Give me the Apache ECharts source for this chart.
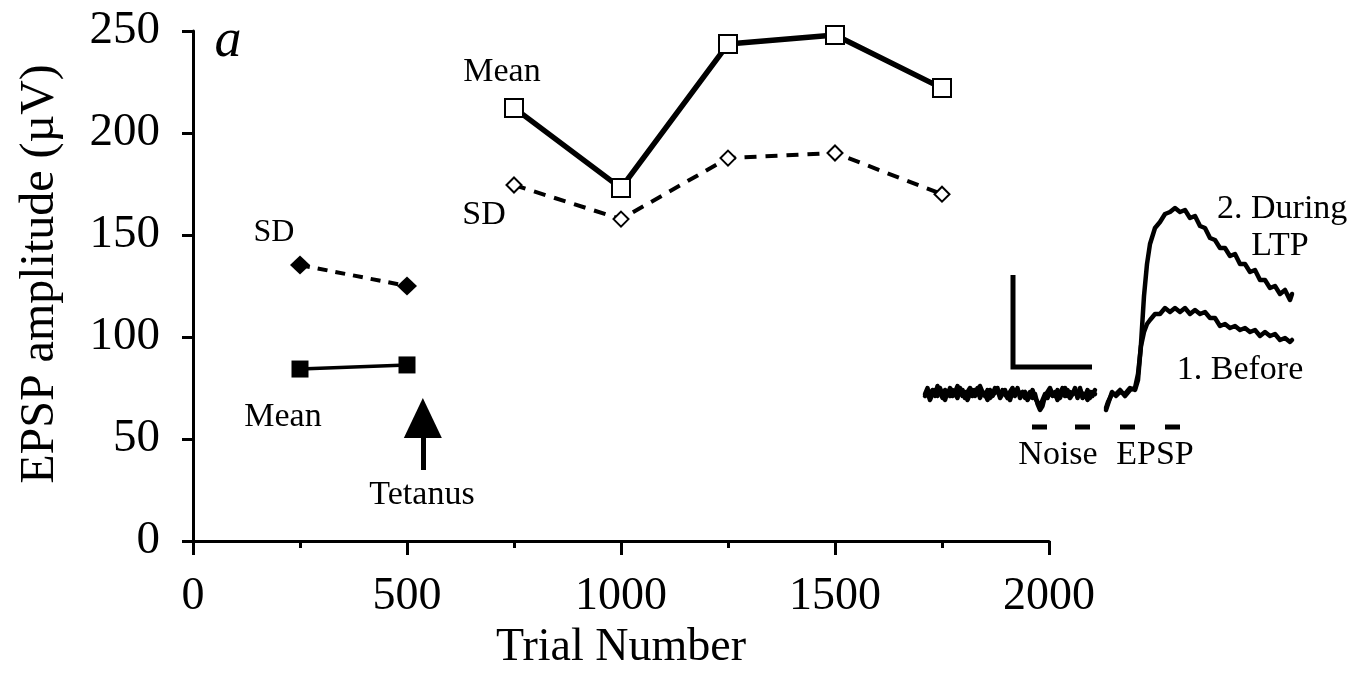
<!DOCTYPE html>
<html>
<head>
<meta charset="utf-8">
<title>EPSP amplitude vs trial number</title>
<script src="https://cdn.jsdelivr.net/npm/echarts@6/dist/echarts.min.js"></script>
<style>
  html, body { margin: 0; padding: 0; background: #fff; }
  #chart { width: 1363px; height: 677px; }
</style>
</head>
<body>
<div id="chart"></div>
<script>
// Trial blocks before and after the tetanus
const preTrials = [250, 500];
const preMean = [84.3, 86.3];
const preSD = [135.3, 125];
const postTrials = [750, 1000, 1250, 1500, 1750];
const postMean = [212.3, 173, 243.6, 248, 222];
const postSD = [174.5, 157.8, 187.7, 190.2, 170];

// Axis ticks
const xTicks = [0, 500, 1000, 1500, 2000];
const yTicks = [0, 50, 100, 150, 200, 250];

// Tetanus delivery (trial number) and arrow extent (µV)
const tetanusTrial = 537;
const tetanusArrow = [34.8, 60.3];

// Example traces: amplitude (relative units); baseline sampled every 0.25 ms from 0.5 ms
const noiseStart = 0.5;
const noiseStep = 0.25;
const noiseBefore = [3, 6, 1, 5, 2, 7, 4, 1, 5, 3,
  6, 2, 4, 7, 3, 5, 1, 4, 6, 2,
  5, 3, 7, 4, 2, 5, 1, 3, 6, 4,
  2, 5, 3, 1, 4, 6, 2, 5, 3, 4,
  1, 2, 4, 1, 3, -2, -5, -3, 2, 4,
  6, 3, 2, 5, 1, 4, 6, 2, 4, 3,
  6, 1, 5, 3, 2, 5, 1, 4, 3];
const noiseDuring = [2, 4, 0, 3, 5, 2, 6, 3, 0, 4,
  2, 5, 3, 1, 6, 2, 4, 0, 3, 5,
  2, 6, 1, 4, 3, 0, 5, 2, 4, 6,
  1, 3, 5, 2, 0, 4, 3, 6, 1, 3,
  4, 0, 2, 5, 1, -1, -3, 0, 3, 1,
  5, 2, 4, 0, 3, 6, 2, 5, 1, 3,
  4, 2, 6, 1, 3, 0, 4, 2, 5];
const epspTime = [18.6, 18.8, 19.2, 19.6, 20.0, 20.5, 21.0, 21.5, 21.8, 22.1, 22.4, 22.7, 23.0, 23.5,
  24.0, 24.5, 25.0, 25.5, 26.0, 26.5, 27.0, 27.5, 28.0, 28.5, 29.0, 29.5, 30.0, 30.5, 31.0, 31.5,
  32.0, 32.5, 33.0, 33.5, 34.0, 34.5, 35.0, 35.5, 36.0, 36.5, 37.0, 37.2];
const epspBefore = [-4, -1, 3, 3, 5, 2, 5, 6, 13, 27, 34, 38, 40, 43,
  43, 46, 44, 46, 44, 46, 43, 45, 43, 44, 41, 41, 37, 38, 36, 37,
  35, 36, 34, 35, 32, 34, 32, 33, 30, 31, 29, 30];
const epspDuring = [-5, -2, 4, 2, 4, 3, 6, 5, 10, 28, 52, 68, 78, 86,
  89, 93, 94, 96, 94, 95, 91, 92, 87, 86, 81, 80, 76, 76, 72, 73,
  68, 68, 64, 65, 60, 60, 56, 57, 53, 55, 50, 53];

// Scale bar corner points and analysis windows (ms)
const scaleBar = [[9.3, 62.5], [9.3, 16.5], [17.2, 16.5]];
const windows = [[11.2, 12.7], [15.5, 17.0], [20.0, 21.5], [24.5, 26.0]];
const windowLevel = -13.5;

const FONT = '"Liberation Serif", "DejaVu Serif", serif';
const zip = (xs, ys) => xs.map((x, i) => [x, ys[i]]);
const sampled = (vals) => vals.map((v, i) => [noiseStart + i * noiseStep, v]);

const traceStyle = { color: '#000', width: 4.5, join: 'round', cap: 'round' };
function traceSeries(name, data) {
  return {
    name, type: 'line', xAxisIndex: 1, yAxisIndex: 1,
    data, symbol: 'none', silent: true,
    lineStyle: traceStyle
  };
}

const chart = echarts.init(document.getElementById('chart'), null, { renderer: 'canvas' });

const option = {
  backgroundColor: '#fff',
  animation: false,
  grid: [
    { left: 193, top: 31, width: 856, height: 510 },
    { left: 920, top: 180, width: 380, height: 260 }
  ],
  xAxis: [
    {
      type: 'value', gridIndex: 0, min: xTicks[0], max: xTicks[xTicks.length - 1],
      interval: xTicks[1] - xTicks[0],
      name: 'Trial Number', nameLocation: 'middle', nameGap: 66,
      nameTextStyle: { fontFamily: FONT, fontSize: 46, color: '#000' },
      axisLine: { show: true, lineStyle: { color: '#000', width: 3 } },
      axisTick: { show: true, length: 14, lineStyle: { color: '#000', width: 3 } },
      minorTick: { show: true, splitNumber: 2, length: 7, lineStyle: { color: '#000', width: 3 } },
      splitLine: { show: false },
      axisLabel: { fontFamily: FONT, fontSize: 46, color: '#000', margin: 33, formatter: (v) => String(v) }
    },
    { type: 'value', gridIndex: 1, min: 0, max: 38, show: false }
  ],
  yAxis: [
    {
      type: 'value', gridIndex: 0, min: yTicks[0], max: yTicks[yTicks.length - 1],
      interval: yTicks[1] - yTicks[0],
      axisLine: { show: true, lineStyle: { color: '#000', width: 3 } },
      axisTick: { show: true, length: 11, lineStyle: { color: '#000', width: 3 } },
      splitLine: { show: false },
      axisLabel: { fontFamily: FONT, fontSize: 47, color: '#000', margin: 33, formatter: (v) => String(v) }
    },
    { type: 'value', gridIndex: 1, min: -20, max: 110, show: false }
  ],
  series: [
    {
      name: 'Mean (before)', type: 'line', data: zip(preTrials, preMean),
      symbol: 'rect', symbolSize: 17,
      itemStyle: { color: '#000' },
      lineStyle: { color: '#000', width: 3.5 },
      markLine: {
        silent: true, animation: false,
        symbol: ['none', 'triangle'], symbolSize: [38, 40],
        label: { show: false },
        lineStyle: { color: '#000', width: 5, type: 'solid' },
        data: [[{ coord: [tetanusTrial, tetanusArrow[0]] }, { coord: [tetanusTrial, tetanusArrow[1]] }]]
      }
    },
    {
      name: 'SD (before)', type: 'line', data: zip(preTrials, preSD),
      symbol: 'diamond', symbolSize: [20, 19],
      itemStyle: { color: '#000' },
      lineStyle: { color: '#000', width: 4, type: [10, 8] }
    },
    {
      name: 'Mean (after)', type: 'line', data: zip(postTrials, postMean),
      symbol: 'rect', symbolSize: 18,
      itemStyle: { color: '#fff', borderColor: '#000', borderWidth: 2 },
      lineStyle: { color: '#000', width: 5.5 }
    },
    {
      name: 'SD (after)', type: 'line', data: zip(postTrials, postSD),
      symbol: 'diamond', symbolSize: [15, 15],
      itemStyle: { color: '#fff', borderColor: '#000', borderWidth: 2 },
      lineStyle: { color: '#000', width: 4, type: [12, 9] }
    },
    traceSeries('Before noise', sampled(noiseBefore)),
    traceSeries('During noise', sampled(noiseDuring)),
    traceSeries('Before EPSP', zip(epspTime, epspBefore)),
    traceSeries('During EPSP', zip(epspTime, epspDuring)),
    {
      name: 'Scale bar', type: 'line', xAxisIndex: 1, yAxisIndex: 1,
      data: scaleBar, symbol: 'none', silent: true,
      lineStyle: { color: '#000', width: 5, join: 'miter' }
    },
    ...windows.map((w, i) => ({
      name: 'Window ' + (i + 1), type: 'line', xAxisIndex: 1, yAxisIndex: 1,
      data: [[w[0], windowLevel], [w[1], windowLevel]], symbol: 'none', silent: true,
      lineStyle: { color: '#000', width: 5, cap: 'butt' }
    }))
  ],
  graphic: [
    { type: 'text', x: 40, y: 274, rotation: Math.PI / 2, style: { text: 'EPSP amplitude (µV)', font: '48px ' + FONT, fill: '#000', align: 'center', verticalAlign: 'middle' } },
    { type: 'text', x: 228, y: 42, style: { text: 'a', font: 'italic 54px ' + FONT, fill: '#000', align: 'center', verticalAlign: 'middle' } },
    { type: 'text', x: 274, y: 233, style: { text: 'SD', font: '32px ' + FONT, fill: '#000', align: 'center', verticalAlign: 'middle' } },
    { type: 'text', x: 283, y: 417, style: { text: 'Mean', font: '34px ' + FONT, fill: '#000', align: 'center', verticalAlign: 'middle' } },
    { type: 'text', x: 422, y: 495, style: { text: 'Tetanus', font: '34px ' + FONT, fill: '#000', align: 'center', verticalAlign: 'middle' } },
    { type: 'text', x: 502, y: 72, style: { text: 'Mean', font: '34px ' + FONT, fill: '#000', align: 'center', verticalAlign: 'middle' } },
    { type: 'text', x: 484, y: 215, style: { text: 'SD', font: '34px ' + FONT, fill: '#000', align: 'center', verticalAlign: 'middle' } },
    { type: 'text', x: 1058, y: 455, style: { text: 'Noise', font: '34px ' + FONT, fill: '#000', align: 'center', verticalAlign: 'middle' } },
    { type: 'text', x: 1155, y: 455, style: { text: 'EPSP', font: '34px ' + FONT, fill: '#000', align: 'center', verticalAlign: 'middle' } },
    { type: 'text', x: 1217, y: 209, style: { text: '2. During', font: '34px ' + FONT, fill: '#000', align: 'left', verticalAlign: 'middle' } },
    { type: 'text', x: 1280, y: 246, style: { text: 'LTP', font: '34px ' + FONT, fill: '#000', align: 'center', verticalAlign: 'middle' } },
    { type: 'text', x: 1240, y: 370, style: { text: '1. Before', font: '34px ' + FONT, fill: '#000', align: 'center', verticalAlign: 'middle' } }
  ]
};

chart.setOption(option);
</script>
</body>
</html>
